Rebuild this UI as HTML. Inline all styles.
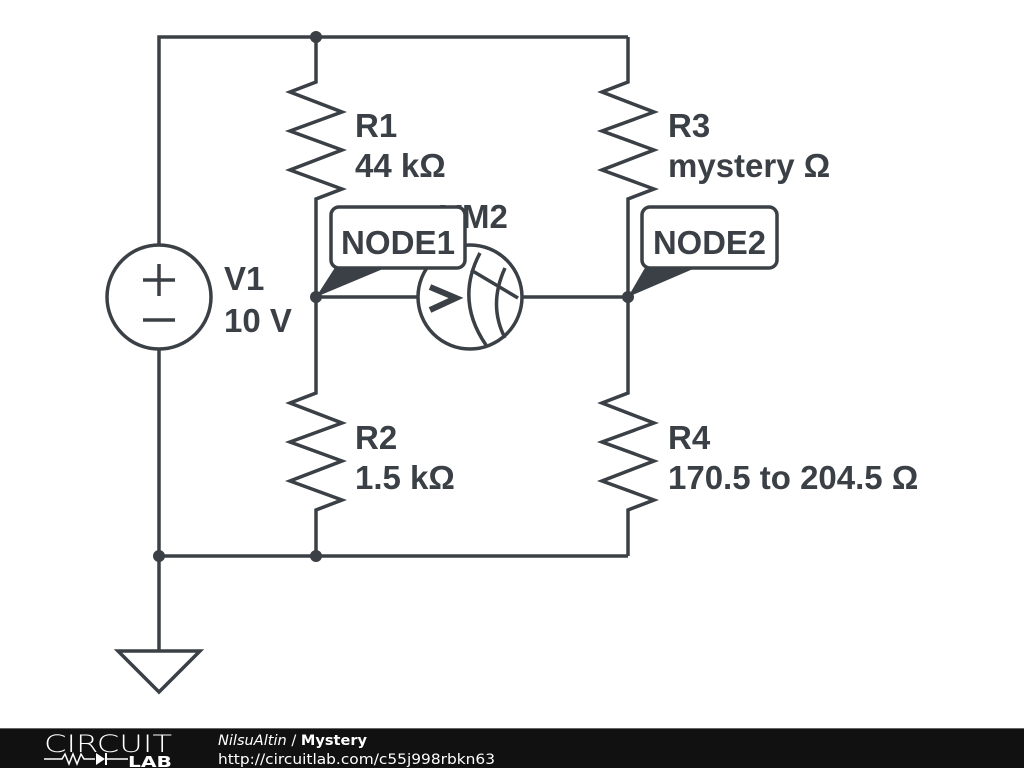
<!DOCTYPE html>
<html><head><style>
body{margin:0;width:1024px;height:768px;background:#fff;overflow:hidden;position:relative;font-family:"Liberation Sans",sans-serif}
svg{position:absolute;left:0;top:0}
.t{font-family:"Liberation Sans",sans-serif;font-weight:bold;font-size:33px;fill:#3a4045}
</style></head><body>
<svg width="1024" height="768" viewBox="0 0 1024 768">
<g fill="none" stroke="#3a4045" stroke-width="3.5" stroke-linejoin="miter">
<polyline points="159,245 159,37 628,37"/>
<line x1="159" y1="349" x2="159" y2="651"/>
<line x1="159" y1="556" x2="628" y2="556"/>
<polygon points="118,651 200,651 159,692"/>
<circle cx="159" cy="297" r="52"/>
<polyline points="316,37 316,82 290,92 342,112 290,131 342,150 290,170 342,189 316,199 316,393 290,403 342,423 290,442 342,461 290,481 342,500 316,510 316,556"/>
<polyline points="628,37 628,82 602,92 654,112 602,131 654,150 602,170 654,189 628,199 628,393 602,403 654,423 602,442 654,461 602,481 654,500 628,510 628,556"/>
<line x1="316" y1="297" x2="418" y2="297"/>
<line x1="522" y1="297" x2="628" y2="297"/>
<circle cx="470" cy="297" r="52"/>
<path d="M480,253 Q455,300 486,345"/>
<path d="M505,268 Q488,305 505,338"/>
<line x1="471" y1="270" x2="518" y2="298"/>
</g>
<g stroke="#3a4045" stroke-width="3.5" fill="none">
<line x1="143" y1="280" x2="175" y2="280"/><line x1="159" y1="264" x2="159" y2="296"/>
<line x1="143" y1="320" x2="175" y2="320"/>
</g>
<polyline points="430,287 456,298 430,310" fill="none" stroke="#3a4045" stroke-width="6"/>
<text x="440" y="228" class="t">VM2</text>
<g fill="#3a4045">
<circle cx="316" cy="37" r="6"/><circle cx="159" cy="556" r="6"/><circle cx="316" cy="556" r="6"/>
<circle cx="316" cy="297" r="6"/><circle cx="628" cy="297" r="6"/>
<polygon points="316,297 336,266 390,266"/>
<polygon points="628,297 646,266 700,266"/>
</g>
<rect x="331" y="207" width="134" height="61" rx="8" fill="#fff" stroke="#3a4045" stroke-width="3.5"/>
<rect x="642" y="207" width="135" height="61" rx="8" fill="#fff" stroke="#3a4045" stroke-width="3.5"/>
<text x="341" y="254" class="t" textLength="114" lengthAdjust="spacingAndGlyphs">NODE1</text>
<text x="653" y="254" class="t" textLength="113" lengthAdjust="spacingAndGlyphs">NODE2</text>
<text x="355" y="137" class="t">R1</text><text x="355" y="177" class="t">44 kΩ</text>
<text x="668" y="137" class="t">R3</text><text x="668" y="177" class="t">mystery Ω</text>
<text x="224" y="290" class="t">V1</text><text x="224" y="332" class="t">10 V</text>
<text x="355" y="449" class="t">R2</text><text x="355" y="489" class="t">1.5 kΩ</text>
<text x="668" y="449" class="t">R4</text><text x="668" y="489" class="t">170.5 to 204.5 Ω</text>
<rect x="0" y="728" width="1024" height="40" fill="#111"/>
<line x1="0" y1="728.5" x2="1024" y2="728.5" stroke="#666" stroke-width="1"/>
<text x="44" y="752" fill="#fff" style="font-family:'DejaVu Sans';font-size:24px;font-weight:200" textLength="128" lengthAdjust="spacingAndGlyphs">CIRCUIT</text>
<polyline points="44,759 62,759 65,754 69,764 73,754 77,764 81,754 84,759 95,759" fill="none" stroke="#fff" stroke-width="1.5"/>
<polygon points="96,753 96,765 105,759" fill="#fff"/><line x1="106" y1="753" x2="106" y2="765" stroke="#fff" stroke-width="2"/>
<line x1="106" y1="759" x2="128" y2="759" stroke="#fff" stroke-width="1.5"/>
<text x="128" y="767" fill="#fff" style="font-family:'DejaVu Sans';font-weight:bold;font-size:15px" textLength="44" lengthAdjust="spacingAndGlyphs">LAB</text>
<text x="218" y="745" fill="#fff" style="font-family:'DejaVu Sans',sans-serif;font-size:14px" textLength="149" lengthAdjust="spacingAndGlyphs"><tspan font-style="italic">NilsuAltin</tspan> / <tspan font-weight="bold">Mystery</tspan></text>
<text x="218" y="764" fill="#fff" style="font-family:'DejaVu Sans',sans-serif;font-size:14px" textLength="277" lengthAdjust="spacingAndGlyphs">http://circuitlab.com/c55j998rbkn63</text>
</svg>
</body></html>
